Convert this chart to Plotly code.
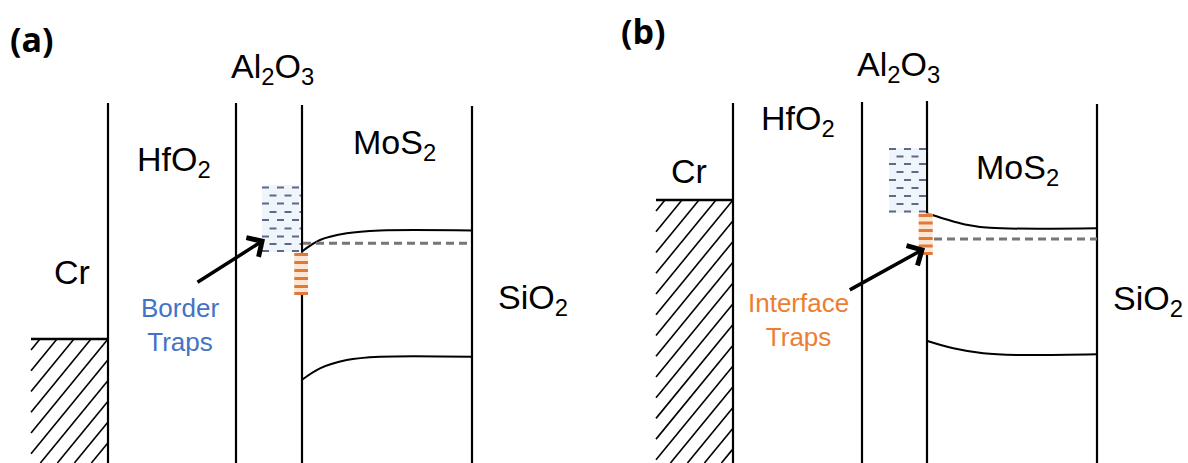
import plotly.graph_objects as go

W, H = 1188, 463

# ---------------- data (pixel-space schematic coordinates) ----------------
# layer boundaries (x) and their top ends (y)
a_bound_x = [108, 236, 302, 472]
a_bound_top = [103, 103, 105, 106]
b_bound_x = [733, 862, 927, 1097]
b_bound_top = [103, 102, 101, 104]

# Cr metal hatched region: [x_left, x_right], top level
a_cr_x = [31, 108]
a_cr_top = 339
b_cr_x = [656, 733]
b_cr_top = 200
hatch_step = 17      # horizontal spacing of hatch lines
hatch_slope = 1.22   # rise per unit run

# MoS2 conduction band, valence band, Fermi level
a_cb_x = [301.7, 320, 346.7, 380, 472]
a_cb_y = [251.7, 240, 233.3, 230.5, 230.5]
a_vb_x = [301.7, 320, 346.7, 380, 471]
a_vb_y = [380, 368.3, 360, 356.7, 356.7]
a_ef_x = [303, 472]
a_ef_y = 243.3

b_cb_x = [926.7, 945, 965, 990, 1097]
b_cb_y = [213.3, 219, 224.5, 227.8, 228.3]
b_vb_x = [926.7, 953.3, 983.3, 1016.7, 1097]
b_vb_y = [340.7, 348.3, 353.3, 355, 354.3]
b_ef_x = [934, 1097]
b_ef_y = 239

# border-trap boxes: x-range, y-range, dash rows
a_bt_x = [262, 301]
a_bt_y = [185, 252]
a_bt_rows = [187.5, 195.5, 203.5, 212, 220, 228.5, 236.5, 244, 251]
b_bt_x = [889, 926]
b_bt_y = [148, 213]
b_bt_rows = [149, 156.5, 164, 172, 180, 188, 196, 204, 211.5]

# interface-trap boxes: x-range, y-range, stripe rows
a_it_x = [294.3, 308]
a_it_y = [252.7, 295]
a_it_rows = [254.5, 262.5, 270.5, 278.5, 286.5, 293.5]
b_it_x = [918.7, 932.7]
b_it_y = [213.3, 255]
b_it_rows = [215.5, 223, 230.5, 238.5, 246, 253.5]

# arrows: (tail x, tail y, head x, head y)
a_arrow = [196, 283.3, 265, 239.3]
b_arrow = [848.3, 290.7, 925, 248.3]

# labels: text, left x, vertical centre, weight
labels = [
    ("(a)", 8, 39, "bold"),
    ("(b)", 619, 31, "bold"),
    ("Al<sub>2</sub>O<sub>3</sub>", 229, 68, ""),
    ("HfO<sub>2</sub>", 135, 161, ""),
    ("MoS<sub>2</sub>", 351, 144, ""),
    ("Cr", 52, 272, ""),
    ("SiO<sub>2</sub>", 496, 299, ""),
    ("Al<sub>2</sub>O<sub>3</sub>", 855, 66, ""),
    ("HfO<sub>2</sub>", 759, 120, ""),
    ("MoS<sub>2</sub>", 974, 169, ""),
    ("Cr", 669, 171, ""),
    ("SiO<sub>2</sub>", 1111, 300, ""),
]
trap_labels = [
    ("Border<br>Traps", 180, 325, "#4472C4"),
    ("Interface<br>Traps", 798, 320, "#ED7D31"),
]

# ---------------- figure ----------------
fig = go.Figure()
BLACK = "#000000"


def line(x, y, width=2, color=BLACK, dash=None, shape="linear"):
    fig.add_trace(go.Scatter(x=x, y=y, mode="lines", hoverinfo="skip",
                             line=dict(color=color, width=width, dash=dash, shape=shape)))


def hatch_segments(x0, x1, y0, y1, step, k):
    """Diagonal '/' lines clipped to the rectangle, one passing through (x1, y0)."""
    xs, ys = [], []
    c_ref = y0 + k * x1            # line y = c - k*x through top-right corner
    c_min = y0 + k * x0
    c_max = y1 + k * x1
    n_lo = int((c_ref - c_min) / (step * k)) + 1
    n_hi = int((c_max - c_ref) / (step * k)) + 1
    for n in range(-n_lo, n_hi + 1):
        c = c_ref + n * step * k
        xa = max(x0, (c - y1) / k)
        xb = min(x1, (c - y0) / k)
        if xb - xa > 0.5:
            xs += [xa, xb, None]
            ys += [c - k * xa, c - k * xb, None]
    return xs, ys


# hatched Cr regions
for cx, ctop in [(a_cr_x, a_cr_top), (b_cr_x, b_cr_top)]:
    hx, hy = hatch_segments(cx[0], cx[1], ctop, H, hatch_step, hatch_slope)
    line(hx, hy, width=1.6)
    line(cx, [ctop, ctop], width=2.4)

# layer boundaries
for bx, bt in zip(a_bound_x + b_bound_x, a_bound_top + b_bound_top):
    line([bx, bx], [bt, H], width=2.2)

# bands
line(a_cb_x, a_cb_y, width=2, shape="spline")
line(a_vb_x, a_vb_y, width=2, shape="spline")
line(b_cb_x, b_cb_y, width=2, shape="spline")
line(b_vb_x, b_vb_y, width=2, shape="spline")
line(a_ef_x, [a_ef_y, a_ef_y], width=3, color="#767676", dash="8px,5px")
line(b_ef_x, [b_ef_y, b_ef_y], width=3, color="#767676", dash="8px,5px")

# border-trap boxes
for bx, by, rows in [(a_bt_x, a_bt_y, a_bt_rows), (b_bt_x, b_bt_y, b_bt_rows)]:
    fig.add_trace(go.Scatter(
        x=[bx[0], bx[1], bx[1], bx[0], bx[0]], y=[by[0], by[0], by[1], by[1], by[0]],
        mode="lines", fill="toself", fillcolor="#eef5fb",
        line=dict(width=0, color="rgba(0,0,0,0)"), hoverinfo="skip"))
    for i, ry in enumerate(rows):
        start = bx[0] + (0 if i % 2 == 0 else 7.5)
        line([start, bx[1]], [ry, ry], width=2.2, color="#62678a", dash="7px,8px")

# interface-trap boxes
for ix, iy, rows in [(a_it_x, a_it_y, a_it_rows), (b_it_x, b_it_y, b_it_rows)]:
    fig.add_trace(go.Scatter(
        x=[ix[0], ix[1], ix[1], ix[0], ix[0]], y=[iy[0], iy[0], iy[1], iy[1], iy[0]],
        mode="lines", fill="toself", fillcolor="#fbe6d4",
        line=dict(width=0, color="rgba(0,0,0,0)"), hoverinfo="skip"))
    for ry in rows:
        line(ix, [ry, ry], width=3, color="#e0793a")

annotations = []
for ar in [a_arrow, b_arrow]:
    annotations.append(dict(x=ar[2], y=ar[3], ax=ar[0], ay=ar[1], xref="x", yref="y",
                            axref="x", ayref="y", text="", showarrow=True,
                            arrowhead=4, arrowsize=1.25, arrowwidth=3.5, arrowcolor=BLACK))

for txt, lx, cy, wt in labels:
    if wt == "bold":
        annotations.append(dict(x=lx, y=cy, xref="x", yref="y", text="<b>" + txt + "</b>",
                                showarrow=False, xanchor="left", yanchor="middle",
                                font=dict(family="Open Sans", size=34, color=BLACK)))
    else:
        annotations.append(dict(x=lx, y=cy, xref="x", yref="y", text=txt,
                                showarrow=False, xanchor="left", yanchor="middle",
                                font=dict(family="Liberation Sans", size=34, color=BLACK)))

for txt, cx, cy, col in trap_labels:
    annotations.append(dict(x=cx, y=cy, xref="x", yref="y", text=txt, align="center",
                            showarrow=False, xanchor="center", yanchor="middle",
                            font=dict(family="Liberation Sans", size=26, color=col)))

fig.update_layout(
    width=W, height=H, margin=dict(l=0, r=0, t=0, b=0),
    paper_bgcolor="white", plot_bgcolor="white", showlegend=False,
    xaxis=dict(range=[0, W], visible=False, fixedrange=True),
    yaxis=dict(range=[H, 0], visible=False, fixedrange=True),
    annotations=annotations,
)

fig.write_html("out.html")
